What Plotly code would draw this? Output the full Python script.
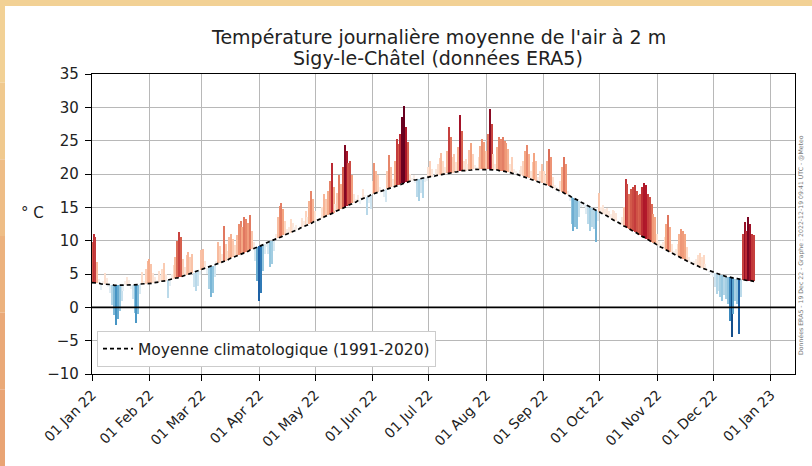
import numpy as np
import pandas as pd
import plotly.graph_objects as go
from plotly.colors import sample_colorscale, sequential

# ---------------- data ----------------
temp_jan = [9.8, 11.0, 10.6, 6.8, 4.2, 2.6, 3.9, 5.2, 4.4, 3.0,
            2.2, 0.4, -1.2, -2.6, -1.8, -0.5, 1.0, 2.4, 3.9, 4.6,
            4.1, 2.8, 1.2, -0.8, -2.4, -1.0, 2.0, 5.3, 4.0, 5.8, 7.0]
temp_feb = [7.3, 6.5, 5.2, 4.6, 4.0, 5.5, 4.9, 5.8, 6.6, 5.0,
            1.4, 3.2, 5.0, 6.4, 7.6, 10.0, 11.3, 10.6, 7.2, 6.0,
            7.8, 8.3, 7.5, 8.0, 3.0, 2.5, 3.2, 4.8]
temp_mar = [8.6, 8.8, 7.0, 5.0, 2.8, 1.5, 2.2, 4.5, 7.0, 9.8,
            9.2, 8.0, 12.2, 9.5, 8.5, 10.5, 11.0, 10.2, 9.4, 10.8,
            12.5, 13.0, 12.0, 13.5, 13.2, 12.6, 13.8, 11.5, 9.8, 7.0, 4.0]
temp_apr = [1.0, 2.2, 5.5, 8.0, 9.0, 8.0, 6.0, 6.5, 8.5, 11.0,
            13.5, 15.2, 15.7, 14.8, 13.0, 11.8, 12.0, 13.2, 12.6, 12.0,
            12.3, 11.8, 12.2, 13.4, 12.9, 14.5, 13.5, 16.0, 17.5, 16.2]
temp_may = [14.5, 13.2, 12.8, 13.6, 15.0, 17.0, 16.3, 17.5, 19.0, 21.6,
            18.0, 15.5, 17.2, 19.8, 18.5, 21.0, 24.3, 23.5, 21.6, 22.0,
            19.8, 17.0, 16.2, 16.8, 15.5, 16.5, 17.8, 16.8, 13.8, 15.6, 14.8]
temp_jun = [19.0, 21.6, 20.5, 19.8, 18.0, 17.8, 16.5, 15.8, 20.5, 22.8,
            21.0, 19.2, 22.0, 25.3, 24.5, 26.0, 28.5, 30.2, 27.0, 24.8,
            20.0, 19.4, 19.8, 18.6, 16.5, 16.0, 17.2, 16.4, 18.8, 19.0]
temp_jul = [21.0, 22.0, 20.8, 19.5, 20.8, 21.5, 22.4, 23.1, 22.0, 21.0,
            23.5, 27.0, 25.5, 22.6, 23.0, 21.8, 24.0, 28.8, 26.5, 22.0,
            22.2, 21.5, 23.6, 24.6, 23.0, 21.4, 21.0, 22.5, 24.2, 25.3, 24.8]
temp_aug = [23.5, 26.0, 29.8, 27.5, 23.0, 21.5, 24.0, 25.5, 25.3, 25.5,
            25.0, 24.6, 23.8, 21.5, 22.5, 20.8, 20.5, 20.2, 20.6, 21.2,
            22.0, 23.5, 24.3, 23.0, 20.5, 21.8, 23.1, 22.0, 19.6, 20.5, 21.5]
temp_sep = [20.5, 19.8, 22.0, 23.8, 22.6, 19.5, 18.4, 18.0, 17.2, 19.0,
            21.0, 22.5, 21.5, 17.5, 16.0, 12.5, 11.5, 12.0, 11.8, 13.5,
            15.0, 15.2, 15.0, 14.0, 12.5, 11.5, 12.0, 11.8, 9.8, 13.0]
temp_oct = [17.1, 15.0, 15.3, 14.8, 14.9, 14.5, 14.0, 14.6, 14.4, 14.2,
            13.0, 12.8, 13.5, 15.0, 19.3, 18.5, 17.0, 17.8, 18.0, 18.3,
            17.5, 16.8, 17.0, 18.0, 18.6, 18.3, 17.0, 16.5, 15.5, 14.0, 13.5]
temp_nov = [11.0, 10.0, 9.5, 9.8, 10.5, 12.5, 13.8, 12.0, 9.5, 8.5,
            8.8, 9.5, 11.0, 11.8, 11.5, 11.0, 9.0, 7.5, 7.0, 6.8,
            7.0, 7.2, 7.8, 8.2, 7.5, 7.9, 6.5, 5.8, 5.2, 4.8]
temp_dec = [4.5, 3.0, 2.0, 2.5, 1.5, 1.0, 1.8, 1.2, 0.5, -2.0,
            -4.5, -1.0, 1.0, 0.5, -4.0, 1.5, 11.0, 12.8, 11.5, 13.5,
            12.5, 11.0, 10.8]

clim_jan = [3.7, 3.7, 3.6, 3.6, 3.6, 3.5, 3.5, 3.5, 3.4, 3.4,
            3.4, 3.4, 3.3, 3.3, 3.3, 3.3, 3.3, 3.3, 3.3, 3.3,
            3.3, 3.4, 3.4, 3.4, 3.4, 3.4, 3.5, 3.5, 3.5, 3.5, 3.6]
clim_feb = [3.6, 3.6, 3.7, 3.7, 3.8, 3.8, 3.9, 3.9, 4.0, 4.0,
            4.1, 4.2, 4.2, 4.3, 4.4, 4.4, 4.5, 4.6, 4.7, 4.8,
            4.9, 5.0, 5.0, 5.1, 5.2, 5.3, 5.4, 5.5]
clim_mar = [5.6, 5.7, 5.8, 5.9, 6.0, 6.1, 6.2, 6.4, 6.5, 6.6,
            6.7, 6.8, 6.9, 7.0, 7.1, 7.3, 7.4, 7.5, 7.6, 7.7,
            7.8, 8.0, 8.1, 8.2, 8.3, 8.4, 8.6, 8.7, 8.8, 8.9, 9.1]
clim_apr = [9.2, 9.3, 9.4, 9.5, 9.7, 9.8, 9.9, 10.0, 10.1, 10.3,
            10.4, 10.5, 10.6, 10.8, 10.9, 11.0, 11.1, 11.2, 11.4, 11.5,
            11.6, 11.7, 11.9, 12.0, 12.1, 12.2, 12.4, 12.5, 12.6, 12.8]
clim_may = [12.9, 13.0, 13.2, 13.3, 13.4, 13.6, 13.7, 13.8, 14.0, 14.1,
            14.2, 14.4, 14.5, 14.6, 14.8, 14.9, 15.0, 15.2, 15.3, 15.4,
            15.6, 15.7, 15.8, 16.0, 16.1, 16.2, 16.4, 16.5, 16.6, 16.7, 16.9]
clim_jun = [17.0, 17.1, 17.2, 17.3, 17.4, 17.5, 17.6, 17.7, 17.8, 17.9,
            18.0, 18.1, 18.2, 18.3, 18.4, 18.5, 18.6, 18.7, 18.8, 18.8,
            18.9, 19.0, 19.1, 19.1, 19.2, 19.3, 19.3, 19.4, 19.4, 19.5]
clim_jul = [19.5, 19.6, 19.6, 19.7, 19.8, 19.8, 19.9, 19.9, 20.0, 20.0,
            20.1, 20.1, 20.2, 20.2, 20.3, 20.3, 20.4, 20.4, 20.5, 20.5,
            20.5, 20.6, 20.6, 20.6, 20.7, 20.7, 20.7, 20.7, 20.7, 20.7, 20.7]
clim_aug = [20.7, 20.7, 20.7, 20.7, 20.6, 20.6, 20.6, 20.5, 20.5, 20.4,
            20.4, 20.3, 20.3, 20.2, 20.1, 20.1, 20.0, 19.9, 19.8, 19.8,
            19.7, 19.6, 19.5, 19.4, 19.3, 19.2, 19.1, 19.0, 18.9, 18.8, 18.7]
clim_sep = [18.6, 18.4, 18.3, 18.2, 18.1, 17.9, 17.8, 17.7, 17.5, 17.4,
            17.3, 17.1, 17.0, 16.8, 16.7, 16.5, 16.4, 16.2, 16.1, 15.9,
            15.8, 15.6, 15.5, 15.3, 15.2, 15.0, 14.9, 14.7, 14.6, 14.4]
clim_oct = [14.3, 14.1, 14.0, 13.8, 13.7, 13.5, 13.3, 13.2, 13.0, 12.9,
            12.7, 12.5, 12.4, 12.2, 12.1, 11.9, 11.7, 11.6, 11.4, 11.3,
            11.1, 10.9, 10.8, 10.6, 10.5, 10.3, 10.1, 10.0, 9.8, 9.7, 9.5]
clim_nov = [9.4, 9.2, 9.0, 8.9, 8.7, 8.6, 8.4, 8.3, 8.1, 8.0,
            7.8, 7.7, 7.5, 7.4, 7.2, 7.1, 6.9, 6.8, 6.7, 6.5,
            6.4, 6.3, 6.1, 6.0, 5.9, 5.8, 5.6, 5.5, 5.4, 5.3]
clim_dec = [5.2, 5.1, 5.0, 4.9, 4.9, 4.8, 4.7, 4.6, 4.6, 4.5,
            4.4, 4.4, 4.3, 4.3, 4.2, 4.2, 4.1, 4.1, 4.0, 4.0,
            4.0, 3.9, 3.9]

start_date = "2022-01-01"
title_lines = ["Température journalière moyenne de l'air à 2 m",
               "Sigy-le-Châtel (données ERA5)"]
legend_label = "Moyenne climatologique (1991-2020)"
y_label = "° C"
credit = "Données ERA5 - 19 Dec 22 - Graphe : 2022-12-19 09:41 UTC - @Meteo"

# ---------------- assemble ----------------
temps = (temp_jan + temp_feb + temp_mar + temp_apr + temp_may + temp_jun +
         temp_jul + temp_aug + temp_sep + temp_oct + temp_nov + temp_dec)
clim = (clim_jan + clim_feb + clim_mar + clim_apr + clim_may + clim_jun +
        clim_jul + clim_aug + clim_sep + clim_oct + clim_nov + clim_dec)
assert len(temps) == len(clim)
dates = pd.date_range(start_date, periods=len(temps), freq="D")

anom = np.array(temps) - np.array(clim)
norm = np.clip(0.5 + anom / 20.0, 0, 1)
colors = sample_colorscale(sequential.RdBu_r, list(norm))

FONT = "DejaVu Sans"
W, H = 812, 466
L, R, T, B = 92, 17, 74, 92
PW, PH = W - L - R, H - T - B


def px(xp):
    return (xp - L) / PW


def py(yp):
    return (H - B - yp) / PH


fig = go.Figure()
fig.add_trace(go.Bar(
    x=dates, y=anom, base=clim, width=86400000 * 0.8,
    marker=dict(color=colors, line=dict(width=0)),
    showlegend=False, hoverinfo="skip"))
fig.add_trace(go.Scatter(
    x=dates, y=clim, mode="lines", name=legend_label,
    line=dict(color="black", width=1.7, dash="4px,3px")))

shapes = []
# beige frame (top band + left gradient band)
shapes.append(dict(type="rect", xref="paper", yref="paper",
                   x0=px(0), x1=px(W), y0=py(6), y1=py(0),
                   fillcolor="#f2d195", line=dict(width=0), layer="below"))
band_cols = ["#f2d195", "#f0c98e", "#eebd86", "#ecb27e", "#eaa978", "#e9a474"]
nb = len(band_cols)
for i, c in enumerate(band_cols):
    y0p = 6 + (H - 6) * i / nb
    y1p = 6 + (H - 6) * (i + 1) / nb
    shapes.append(dict(type="rect", xref="paper", yref="paper",
                       x0=px(0), x1=px(5), y0=py(y1p), y1=py(y0p),
                       fillcolor=c, line=dict(width=0), layer="below"))
# zero line on top
shapes.append(dict(type="line", xref="paper", yref="y", x0=0, x1=1, y0=0, y1=0,
                   line=dict(color="black", width=1.8), layer="above"))

annotations = [
    dict(text=title_lines[0], xref="paper", yref="paper", x=px(438), y=py(37),
         showarrow=False, xanchor="center", yanchor="middle",
         font=dict(family=FONT, size=19, color="#222")),
    dict(text=title_lines[1], xref="paper", yref="paper", x=px(438), y=py(58),
         showarrow=False, xanchor="center", yanchor="middle",
         font=dict(family=FONT, size=19, color="#222")),
    dict(text=y_label, xref="paper", yref="paper", x=px(32), y=py(213),
         showarrow=False, textangle=0, xanchor="center", yanchor="middle",
         font=dict(family=FONT, size=15, color="#222")),
    dict(text=credit, xref="paper", yref="paper", x=px(801), y=py(245),
         showarrow=False, textangle=-90, xanchor="center", yanchor="middle",
         font=dict(family=FONT, size=6.2, color="#777")),
]

fig.update_layout(
    width=W, height=H, template="none",
    margin=dict(l=L, r=R, t=T, b=B, autoexpand=False),
    paper_bgcolor="white", plot_bgcolor="rgba(0,0,0,0)",
    font=dict(family=FONT, size=15, color="#222"),
    barmode="overlay", bargap=0,
    shapes=shapes, annotations=annotations,
    legend=dict(x=px(97), y=py(367), xanchor="left", yanchor="bottom",
                bgcolor="white", bordercolor="#cccccc", borderwidth=1,
                font=dict(family=FONT, size=15.5, color="#222"),
                itemwidth=30),
    showlegend=True,
)
fig.update_xaxes(
    range=["2022-01-01", "2023-01-14"], type="date",
    tick0="2022-01-01", dtick="M1", tickformat="%d %b %y", tickangle=-45,
    showgrid=True, gridcolor="#b8b8b8", gridwidth=1,
    showline=True, linecolor="black", linewidth=1.2, mirror=True,
    ticks="outside", ticklen=6, tickcolor="black", automargin=False,
    tickfont=dict(family=FONT, size=14, color="#222"), zeroline=False)
fig.update_yaxes(
    range=[-10, 35], dtick=5, tick0=0,
    showgrid=True, gridcolor="#b8b8b8", gridwidth=1,
    showline=True, linecolor="black", linewidth=1.2, mirror=True,
    ticks="outside", ticklen=6, tickcolor="black", automargin=False,
    ticklabelstandoff=3,
    tickfont=dict(family=FONT, size=15, color="#222"), zeroline=False)

fig.write_html("out.html", config={"displayModeBar": False},
               post_script="document.body.style.margin='0';")
